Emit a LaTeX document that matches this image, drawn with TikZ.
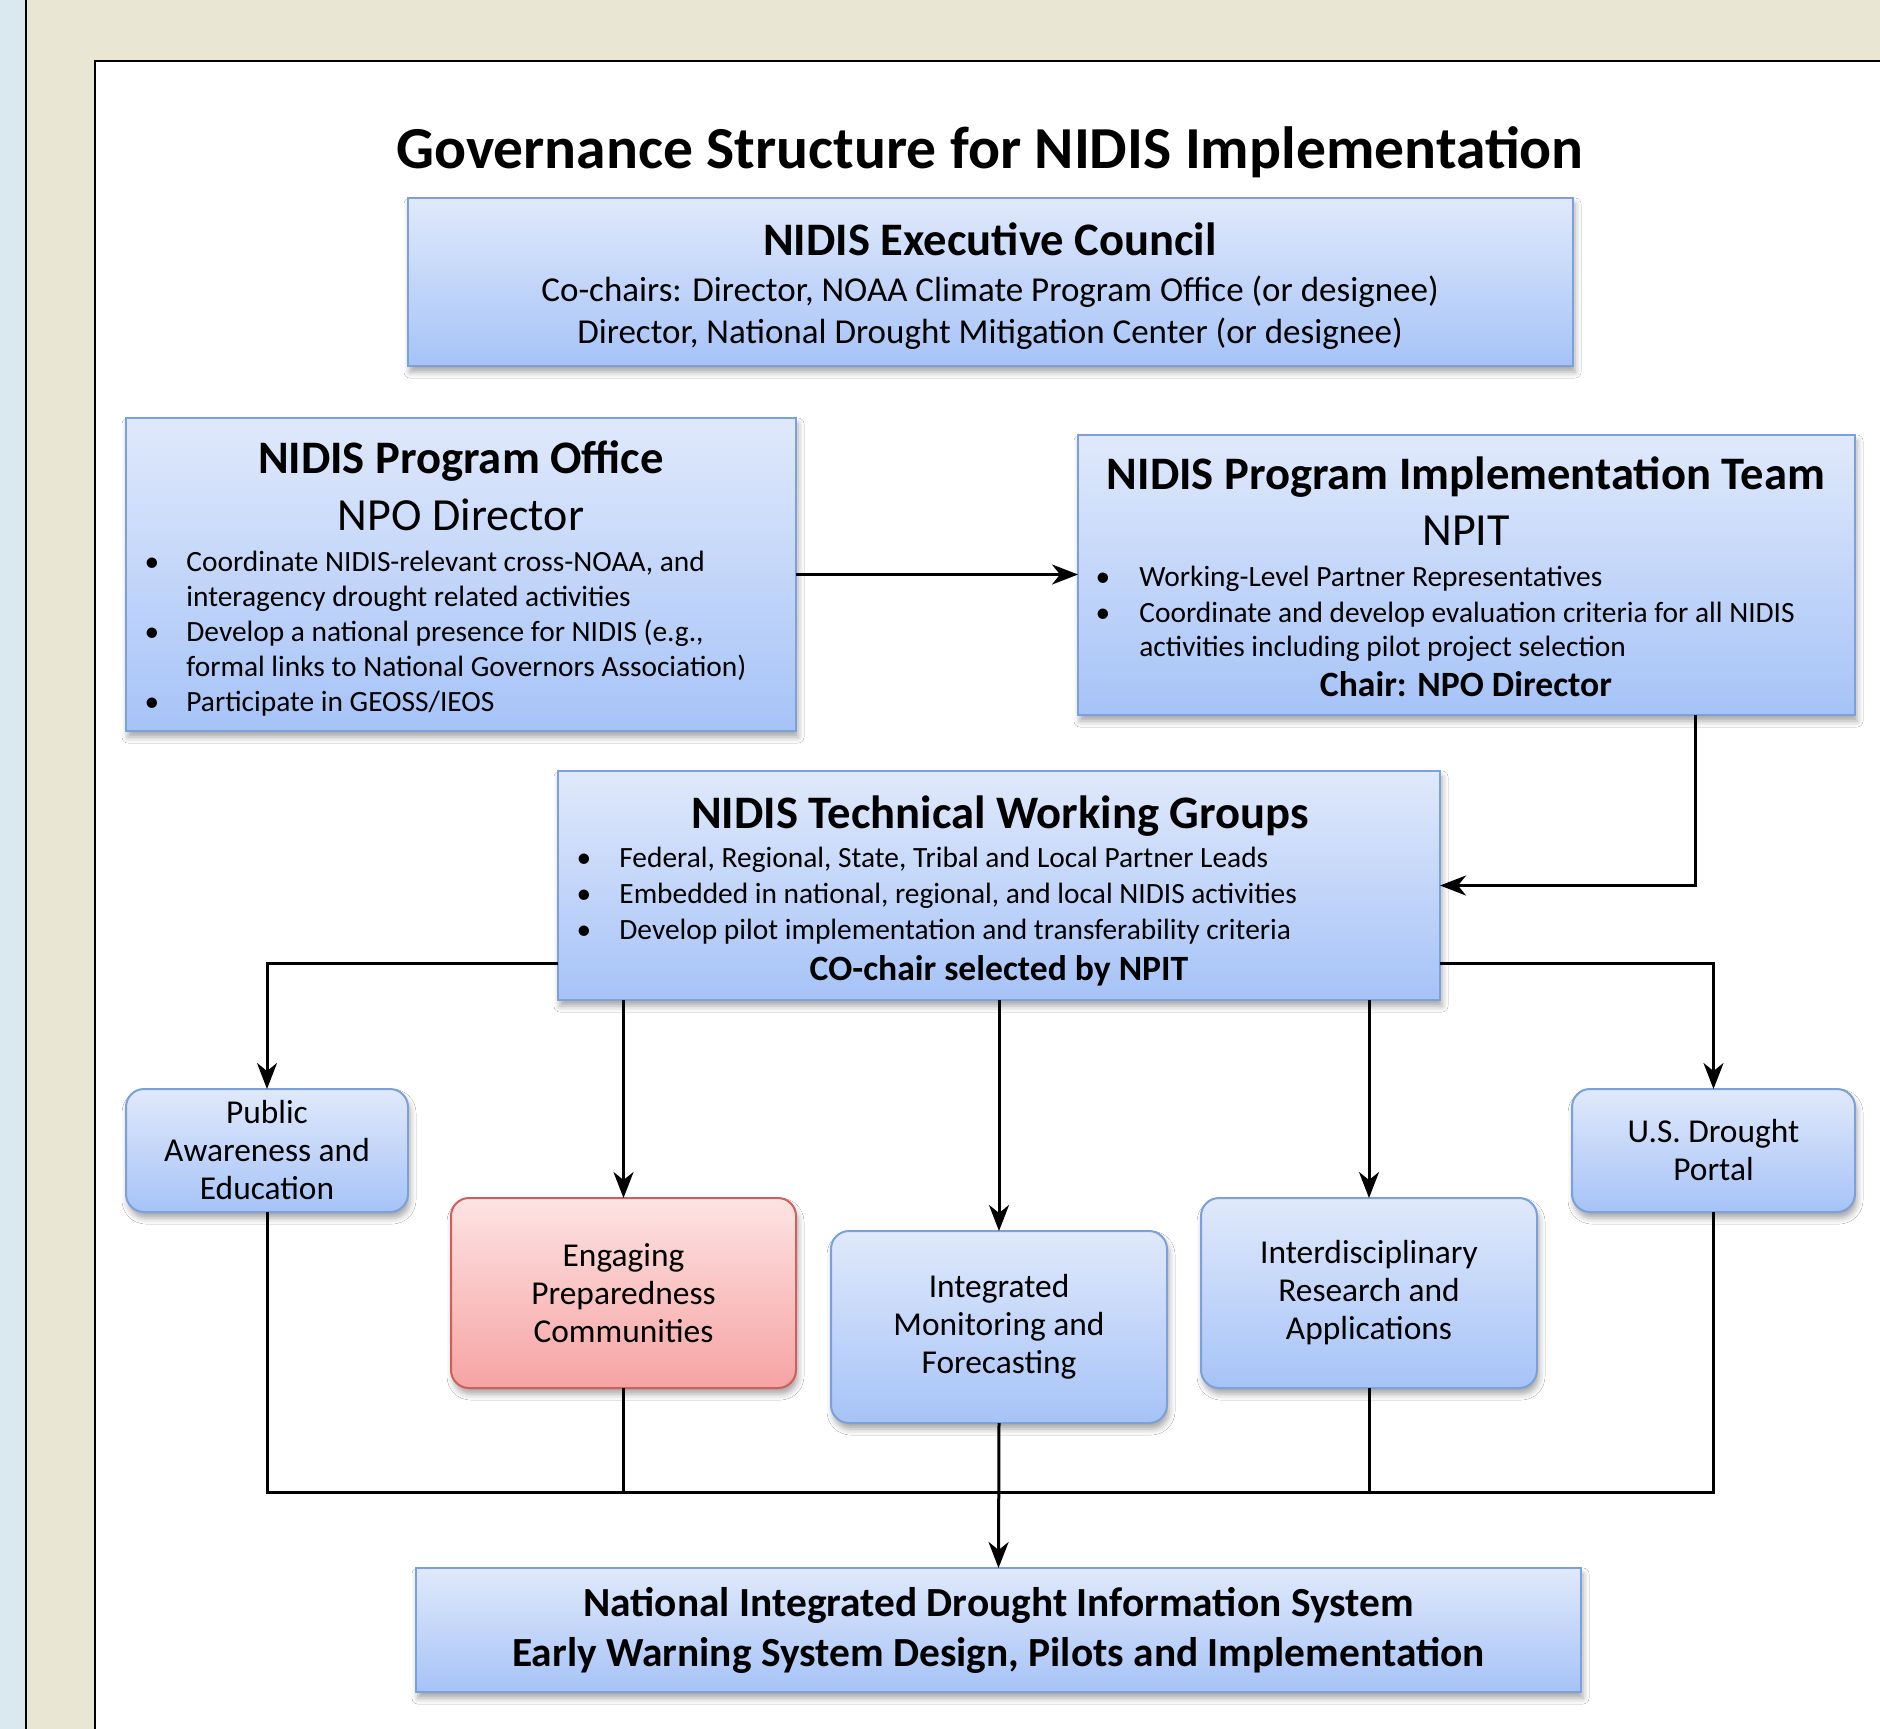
\documentclass[tikz,border=0pt]{standalone}
\usepackage{fontspec}
\setmainfont{Carlito}
\usetikzlibrary{arrows.meta,shadows.blur,calc}
\definecolor{stripblue}{HTML}{DAE8EF}
\definecolor{beige}{HTML}{EAE6D4}
\definecolor{boxtop}{HTML}{E0E9FB}
\definecolor{boxbot}{HTML}{A6C3F7}
\definecolor{boxline}{HTML}{7BA0DA}
\definecolor{redtop}{HTML}{FDE3E3}
\definecolor{redbot}{HTML}{F6A3A3}
\definecolor{redline}{HTML}{CF5F5C}
\begin{document}
\begin{tikzpicture}[x=0.5pt,y=-0.5pt,
  shad/.style={blur shadow={shadow xshift=1pt,shadow yshift=-3pt,shadow blur radius=3pt,shadow opacity=35}},
  bluebox/.style={shad,draw=boxline,line width=1pt,top color=boxtop,bottom color=boxbot,inner sep=0pt,outer sep=0pt,align=center},
  bluebtn/.style={bluebox,rounded corners=9pt,font=\fontsize{16.7}{19}\selectfont},
  redbtn/.style={shad,draw=redline,line width=1pt,top color=redtop,bottom color=redbot,inner sep=0pt,outer sep=0pt,align=center,rounded corners=9pt,font=\fontsize{16.7}{19}\selectfont},
  ttl/.style={font=\fontsize{29.8}{36}\selectfont\bfseries,inner sep=0pt,anchor=mid},
  head/.style={font=\fontsize{23.3}{28}\selectfont\bfseries,inner sep=0pt,anchor=mid},
  sub/.style={font=\fontsize{23}{28}\selectfont,inner sep=0pt,anchor=mid},
  ecline/.style={font=\fontsize{17.5}{21}\selectfont,inner sep=0pt,anchor=mid},
  itm/.style={font=\fontsize{14.7}{18}\selectfont,inner sep=0pt,anchor=mid west},
  dot/.style={font=\fontsize{14.7}{18}\selectfont,inner sep=0pt,anchor=mid},
  chair/.style={font=\fontsize{17.8}{21}\selectfont\bfseries,inner sep=0pt,anchor=mid},
  conn/.style={line width=1.5pt,black},
  arr/.style={conn,-{Stealth[length=13pt,width=10pt,inset=4pt]}}]
\useasboundingbox (0,0) rectangle (1880,1729);
% background
\fill[stripblue] (0,0) rectangle (1880,1729);
\fill[beige] (26,0) rectangle (1880,1729);
\draw[line width=1.2pt] (26,0) -- (26,1729);
\fill[white] (95,61) rectangle (1880,1729);
\draw[line width=1.2pt] (95,1729) -- (95,61) -- (1880,61);

% title
\node[ttl] (title) at (990,164) {Governance Structure for NIDIS Implementation};

% boxes
\node[bluebox,minimum width=582.5pt,minimum height=84pt] (ec) at (990.5,282) {};
\node[bluebox,minimum width=335pt,minimum height=156.5pt] (po) at (461,574.5) {};
\node[bluebox,minimum width=388.5pt,minimum height=140pt] (npit) at (1466.5,575) {};
\node[bluebox,minimum width=441pt,minimum height=114.5pt] (twg) at (999,885.5) {};
\node[bluebtn,minimum width=141pt,minimum height=61.5pt] (pa) at (267,1150.5) {Public\\Awareness and\\Education};
\node[redbtn,minimum width=172.5pt,minimum height=95pt] (epc) at (623.5,1293) {Engaging\\Preparedness\\Communities};
\node[bluebtn,minimum width=168pt,minimum height=96pt] (imf) at (999,1327) {Integrated\\Monitoring and\\Forecasting};
\node[bluebtn,minimum width=168pt,minimum height=95pt] (ira) at (1369,1293) {Interdisciplinary\\Research and\\Applications};
\node[bluebtn,minimum width=141.5pt,minimum height=61.5pt] (usdp) at (1713.5,1150.5) {U.S. Drought\\Portal};
\node[bluebox,minimum width=582.5pt,minimum height=62pt,font=\fontsize{20.7}{25}\selectfont\bfseries] (nidis) at (998.5,1630) {National Integrated Drought Information System\\Early Warning System Design, Pilots and Implementation};

% executive council text
\node[head] (ect) at (990,251) {NIDIS Executive Council};
\node[ecline] (ec1) at (990,297) {Co-chairs: Director, NOAA Climate Program Office (or designee)};
\node[ecline] (ec2) at (990,339) {Director, National Drought Mitigation Center (or designee)};

% program office text
\node[head] (pot) at (461,469) {NIDIS Program Office};
\node[sub] (pos) at (461,526) {NPO Director};
\node[dot] (pod1) at (152,567) {•};
\node[itm] (po1) at (186,567) {Coordinate NIDIS-relevant cross-NOAA, and};
\node[itm] (po2) at (186,602) {interagency drought related activities};
\node[dot] (pod2) at (152,637) {•};
\node[itm] (po3) at (186,637) {Develop a national presence for NIDIS (e.g.,};
\node[itm] (po4) at (186,672) {formal links to National Governors Association)};
\node[dot] (pod3) at (152,707) {•};
\node[itm] (po5) at (186,707) {Participate in GEOSS/IEOS};

% NPIT text
\node[head] (npt) at (1466,485) {NIDIS Program Implementation Team};
\node[sub] (nps) at (1466,541) {NPIT};
\node[dot] (npd1) at (1103,582) {•};
\node[itm] (np1) at (1139,582) {Working-Level Partner Representatives};
\node[dot] (npd2) at (1103,618) {•};
\node[itm] (np2) at (1139,618) {Coordinate and develop evaluation criteria for all NIDIS};
\node[itm] (np3) at (1139,652) {activities including pilot project selection};
\node[chair] (npc) at (1466,692) {Chair: NPO Director};

% TWG text
\node[head] (twt) at (1000,824) {NIDIS Technical Working Groups};
\node[dot] (twd1) at (584,863) {•};
\node[itm] (tw1) at (619,863) {Federal, Regional, State, Tribal and Local Partner Leads};
\node[dot] (twd2) at (584,899) {•};
\node[itm] (tw2) at (619,899) {Embedded in national, regional, and local NIDIS activities};
\node[dot] (twd3) at (584,935) {•};
\node[itm] (tw3) at (619,935) {Develop pilot implementation and transferability criteria};
\node[chair] (twc) at (999,976) {CO-chair selected by NPIT};

% connectors
\coordinate (bus) at (999,1492);
\draw[arr] (po.east) -- (po.east -| npit.west);
\draw[arr] ([xshift=114.5pt]npit.south) |- (twg.east);
\draw[arr] ([yshift=-38.75pt]twg.west) -| (pa.north);
\draw[arr] ([yshift=-38.75pt]twg.east) -| (usdp.north);
\draw[arr] (twg.south -| epc.north) -- (epc.north);
\draw[arr] (twg.south -| imf.north) -- (imf.north);
\draw[arr] (twg.south -| ira.north) -- (ira.north);
\draw[conn] (pa.south) |- (bus) -| (usdp.south);
\draw[conn] (epc.south) -- (epc.south |- bus);
\draw[conn] (ira.south) -- (ira.south |- bus);
\draw[arr] (imf.south) -- (nidis.north);
\end{tikzpicture}
\end{document}
